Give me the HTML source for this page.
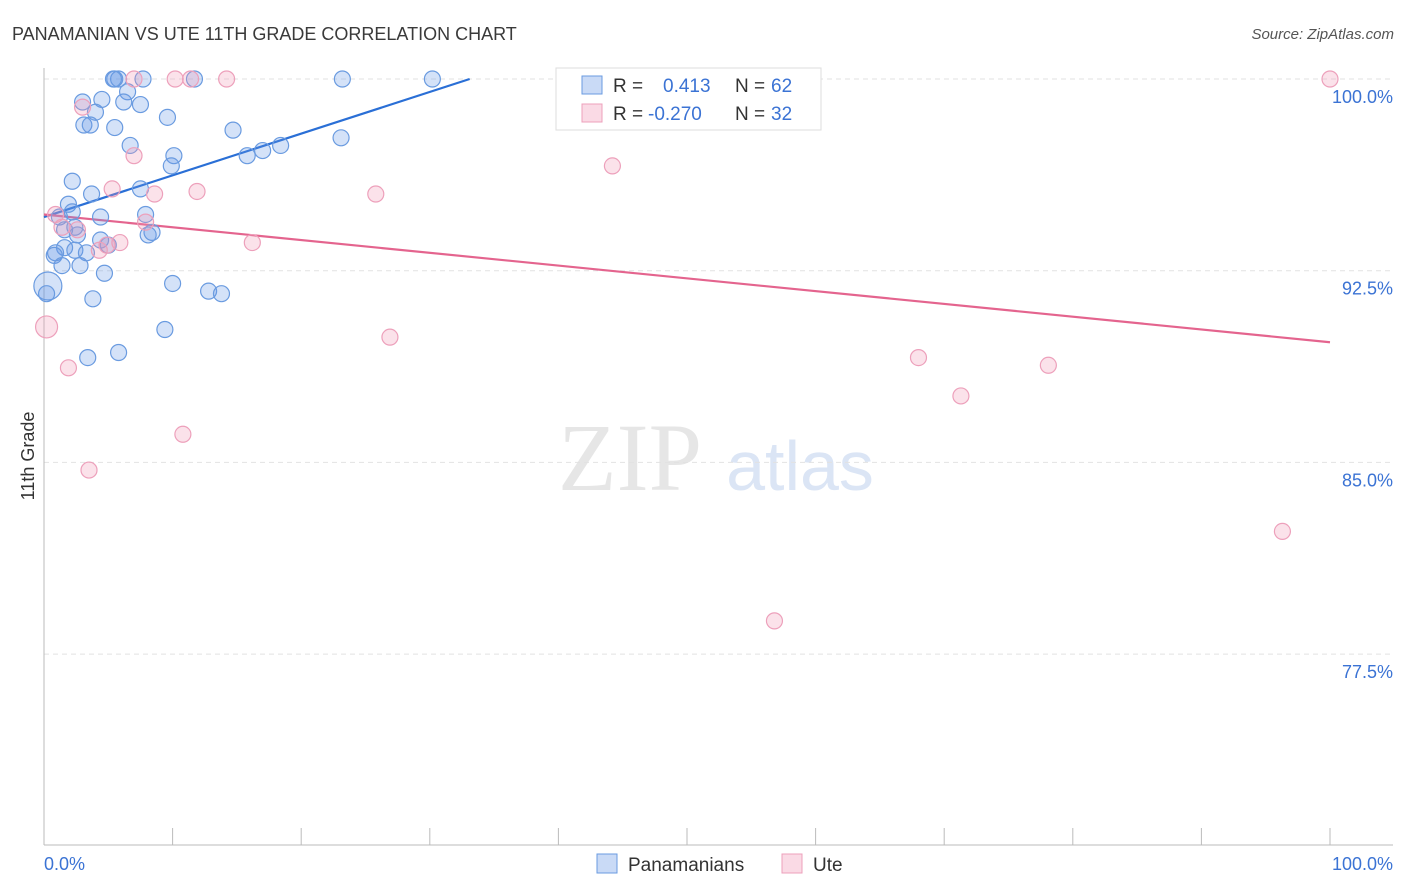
<!DOCTYPE html>
<html><head><meta charset="utf-8"><style>
body{margin:0;background:#fff;font-family:"Liberation Sans",sans-serif;}
svg{display:block}
</style></head><body>
<svg id="chart" width="1406" height="892">
<text x="12" y="40" font-size="18" fill="#3a3a3a">PANAMANIAN VS UTE 11TH GRADE CORRELATION CHART</text>
<text x="1394" y="39" font-size="15" fill="#555" font-style="italic" text-anchor="end">Source: ZipAtlas.com</text>
<text x="630" y="490" font-size="96" fill="#e6e6e6" font-family="Liberation Serif,serif" text-anchor="middle">ZIP</text>
<text x="800" y="490" font-size="70" fill="#dbe5f5" text-anchor="middle">atlas</text>
<g id="grid"></g><g id="axes"></g><g id="lines"></g><g id="pts"></g>
<text x="34" y="456" font-size="18" fill="#333" transform="rotate(-90 34 456)" text-anchor="middle">11th Grade</text>
<g>
<rect x="556" y="68" width="265" height="62" fill="#fff" stroke="#ddd"/>
<rect x="582" y="76" width="20" height="18" fill="rgba(100,150,230,0.35)" stroke="#6a9be0"/>
<text x="613" y="92" font-size="19" fill="#333">R = </text><text x="663" y="92" font-size="19" fill="#3b73d4">0.413</text>
<text x="735" y="92" font-size="19" fill="#333">N = </text><text x="771" y="92" font-size="19" fill="#3b73d4">62</text>
<rect x="582" y="104" width="20" height="18" fill="rgba(240,150,180,0.35)" stroke="#eda0bb"/>
<text x="613" y="120" font-size="19" fill="#333">R = </text><text x="648" y="120" font-size="19" fill="#3b73d4">-0.270</text>
<text x="735" y="120" font-size="19" fill="#333">N = </text><text x="771" y="120" font-size="19" fill="#3b73d4">32</text>
</g>
<g>
<rect x="597" y="854" width="20" height="19" fill="rgba(100,150,230,0.35)" stroke="#6a9be0"/>
<text x="628" y="871" font-size="19" fill="#333">Panamanians</text>
<rect x="782" y="854" width="20" height="19" fill="rgba(240,150,180,0.35)" stroke="#eda0bb"/>
<text x="813" y="871" font-size="19" fill="#333">Ute</text>
</g>
</svg>
<script>
const NS="http://www.w3.org/2000/svg";
const yTicks=[100,92.5,85,77.5];
const yTickLabels=["100.0%","92.5%","85.0%","77.5%"];
const xTickLabels=["0.0%","100.0%"];
const blueX=[5.5,5.8,7.7,11.7,23.2,30.2,5.4,41.7,6.5,4.5,6.2,7.5,3.0,4.0,9.6,3.1,3.6,5.5,14.7,6.7,23.1,18.4,17.0,15.8,10.1,9.9,2.2,7.5,3.7,1.9,2.2,4.4,7.9,1.2,1.6,2.4,2.6,8.4,8.1,4.4,5.0,1.6,2.4,0.9,0.8,3.3,1.4,2.8,4.7,0.3,10.0,12.8,13.8,3.8,9.4,3.4,5.8,0.2];
const blueY=[100,100,100,100,100,100,100,100,99.5,99.2,99.1,99.0,99.1,98.7,98.5,98.2,98.2,98.1,98.0,97.4,97.7,97.4,97.2,97.0,97.0,96.6,96.0,95.7,95.5,95.1,94.8,94.6,94.7,94.6,94.1,94.2,93.9,94.0,93.9,93.7,93.5,93.4,93.3,93.2,93.1,93.2,92.7,92.7,92.4,91.9,92.0,91.7,91.6,91.4,90.2,89.1,89.3,91.6];
const pinkX=[11.4,14.2,7.0,10.2,54.7,100,3.0,7.0,44.2,5.3,8.6,11.9,25.8,0.9,1.4,2.6,7.9,5.9,4.9,4.3,16.2,0.2,26.9,1.9,68.0,78.1,71.3,10.8,3.5,96.3,56.8];
const pinkY=[100,100,100,100,100,100,98.9,97.0,96.6,95.7,95.5,95.6,95.5,94.7,94.2,94.1,94.4,93.6,93.5,93.3,93.6,90.3,89.9,88.7,89.1,88.8,87.6,86.1,84.7,82.3,78.8];
const blueTrend=[[0,94.6],[33.1,100]];
const pinkTrend=[[0,94.7],[100,89.7]];
const X=v=>44+v*12.86, Y=v=>79+(100-v)*25.56;
function mk(t,a,p){const e=document.createElementNS(NS,t);for(const k in a)e.setAttribute(k,a[k]);p.appendChild(e);return e;}
const grid=document.getElementById('grid'),axes=document.getElementById('axes'),lines=document.getElementById('lines'),pts=document.getElementById('pts');
yTicks.forEach((v,i)=>{
 const l=mk('line',{x1:44,x2:1393,y1:Y(v),y2:Y(v),stroke:'#e2e2e2','stroke-dasharray':'5,4'},grid);
 
 
 const t=mk('text',{x:1393,y:Y(v)+24,'font-size':18,fill:'#3b73d4','text-anchor':'end'},grid);
 t.textContent=yTickLabels[i];
 
 
});
const ax=mk('line',{x1:44,x2:44,y1:68,y2:845,stroke:'#bbb'},axes);


const bx=mk('line',{x1:44,x2:1393,y1:845,y2:845,stroke:'#bbb'},axes);


for(let i=0;i<=10;i++){const tk=mk('line',{x1:X(i*10),x2:X(i*10),y1:828,y2:845,stroke:'#bbb'},axes);
 
 }
[[0,'start',44],[100,'end',1393]].forEach((d,i)=>{const t=mk('text',{x:d[2],y:870,'font-size':18,fill:'#3b73d4','text-anchor':d[1]},axes);t.textContent=xTickLabels[i];
 
 });
function pl(xs,ys,fill,stroke,name){xs.forEach((x,i)=>{const r=(name==='blue-point'&&i===49)?14:(name==='pink-point'&&i===21)?11:8;
 const c=mk('circle',{cx:X(x),cy:Y(ys[i]),r:r,fill:fill,stroke:stroke,'stroke-width':1.2},pts);
 
 });}
pl(blueX,blueY,'rgba(100,150,230,0.28)','#6a9be0','blue-point');
pl(pinkX,pinkY,'rgba(240,150,180,0.28)','#eda0bb','pink-point');
const b=mk('line',{x1:X(blueTrend[0][0]),y1:Y(blueTrend[0][1]),x2:X(blueTrend[1][0]),y2:Y(blueTrend[1][1]),stroke:'#2a6fd6','stroke-width':2.2},lines);


const p=mk('line',{x1:X(pinkTrend[0][0]),y1:Y(pinkTrend[0][1]),x2:X(pinkTrend[1][0]),y2:Y(pinkTrend[1][1]),stroke:'#e4648e','stroke-width':2.2},lines);


</script>
</body></html>
